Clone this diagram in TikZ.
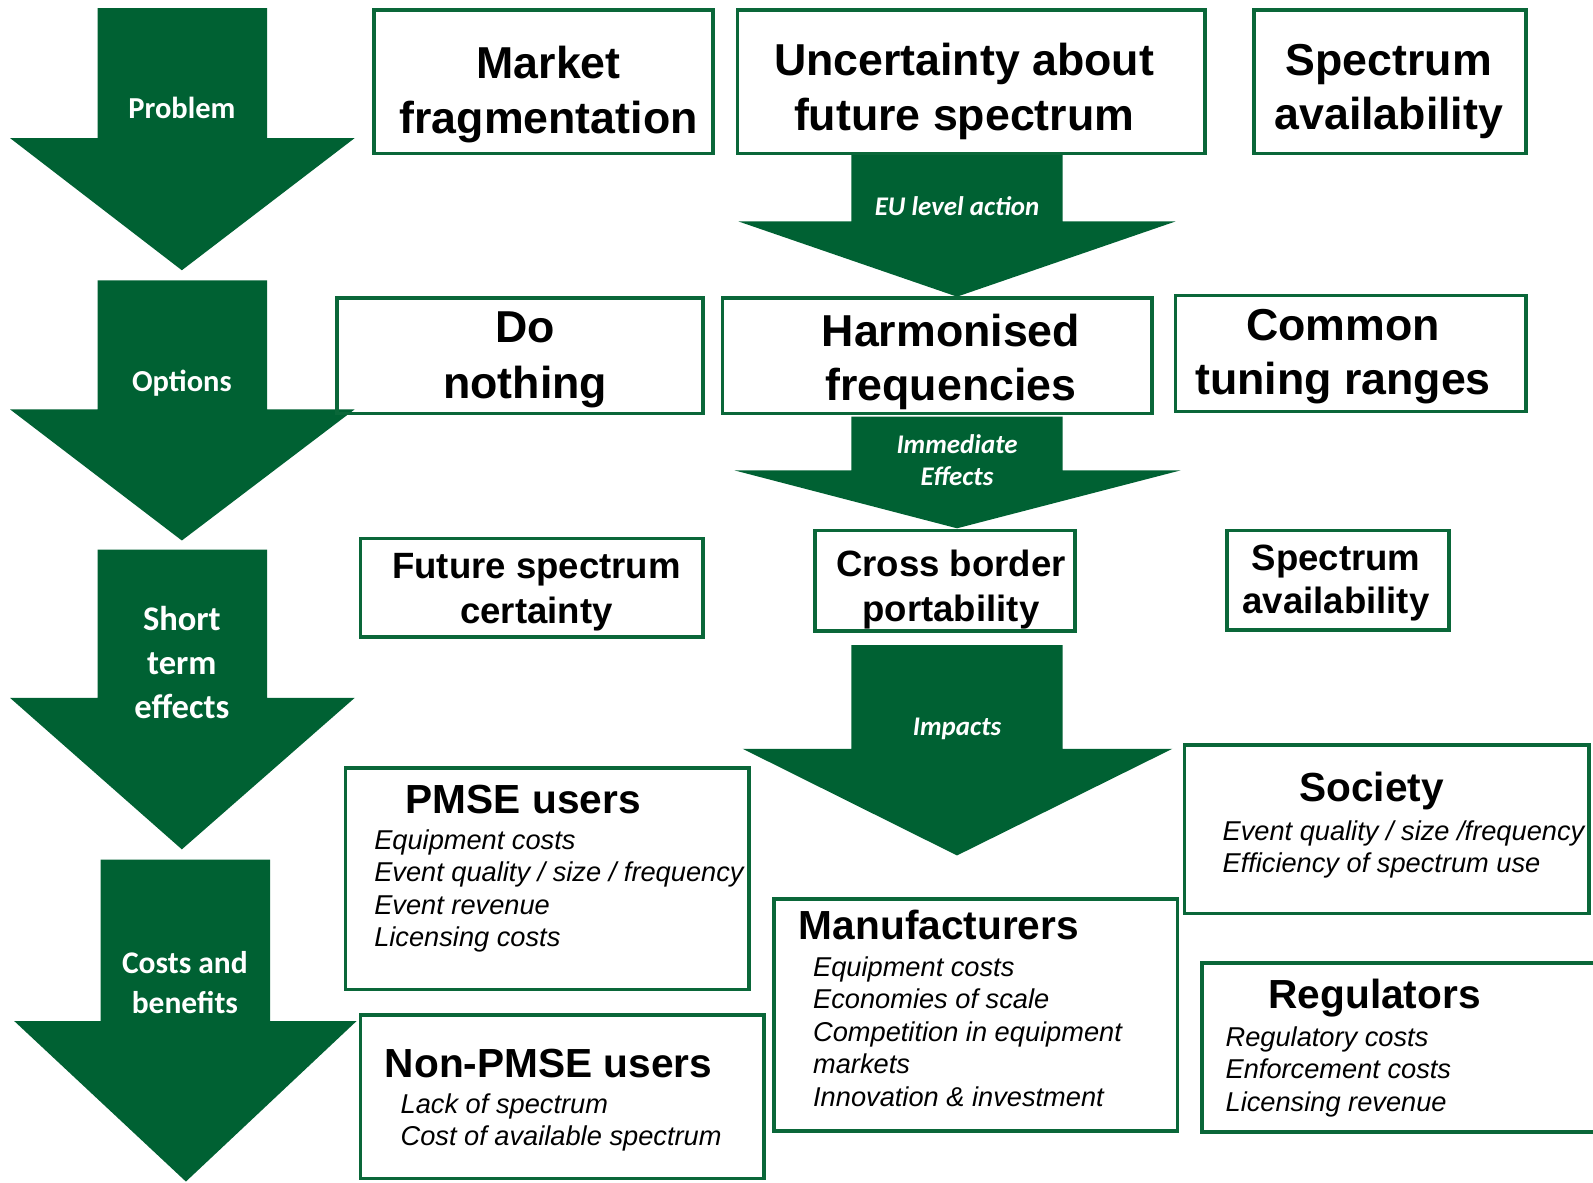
\documentclass[tikz,border=0pt]{standalone}
\usepackage{fontspec}
\setmainfont{Liberation Sans}
\newfontfamily\calibri{Carlito}
\usetikzlibrary{fit}
\definecolor{stagegreen}{RGB}{0,97,51}
\definecolor{boxgreen}{RGB}{10,103,57}

\begin{document}
\begin{tikzpicture}[x=0.5pt,y=-0.5pt,
    stage/.style={fill=stagegreen},
    stagetext/.style={text=white,align=center,inner sep=0pt,font=\calibri\bfseries},
    box/.style={draw=boxgreen,line width=1.8pt,inner sep=0pt},
    head/.style={align=center,inner sep=0pt,font=\bfseries\fontsize{22}{26.75}\selectfont},
    sub/.style={align=center,inner sep=0pt,font=\bfseries\fontsize{18}{22}\selectfont},
    group/.style={inner sep=0pt,font=\bfseries\fontsize{20}{24}\selectfont},
    items/.style={align=left,inner sep=0pt,anchor=north west,font=\itshape\fontsize{13.4}{16}\selectfont}]
    \fill[white] (0,0) rectangle (1568,1164);
    \useasboundingbox (0,0) rectangle (1568,1164);
    \fill[stage] (96,8) -- (263,8) -- (263,136) -- (349,136) -- (179,266) -- (10,136) -- (96,136) -- cycle;
    \fill[stage] (96,276) -- (263,276) -- (263,403) -- (349,403) -- (179,532) -- (10,403) -- (96,403) -- cycle;
    \fill[stage] (96,541) -- (263,541) -- (263,687) -- (349,687) -- (179,836) -- (10,687) -- (96,687) -- cycle;
    \fill[stage] (99,846) -- (266,846) -- (266,1005) -- (351,1005) -- (183,1163) -- (14,1005) -- (99,1005) -- cycle;
    \fill[stage] (838,152) -- (1046,152) -- (1046,218) -- (1157,218) -- (942,292) -- (727,218) -- (838,218) -- cycle;
    \fill[stage] (838,410) -- (1046,410) -- (1046,463) -- (1162,463) -- (942,520) -- (723,463) -- (838,463) -- cycle;
    \fill[stage] (838,635) -- (1046,635) -- (1046,737) -- (1154,737) -- (942,842) -- (731,737) -- (838,737) -- cycle;
    \node[stagetext,font=\calibri\bfseries\fontsize{15}{18}\selectfont] (PR) at (179,106) {Problem};
    \node[stagetext,font=\calibri\bfseries\fontsize{15}{18}\selectfont] (OP) at (179,377) {Options};
    \node[stagetext,font=\calibri\bfseries\fontsize{17}{21.75}\selectfont] (ST) at (179,652) {Short\\term\\effects};
    \node[stagetext,font=\calibri\bfseries\fontsize{15.5}{19.5}\selectfont] (CB) at (182,967) {Costs and\\benefits};
    \node[stagetext,font=\calibri\bfseries\itshape\fontsize{13.25}{16}\selectfont] (EU) at (942,203) {EU level action};
    \node[stagetext,font=\calibri\bfseries\itshape\fontsize{13.25}{16}\selectfont] (IE) at (942,453) {Immediate\\Effects};
    \node[stagetext,font=\calibri\bfseries\itshape\fontsize{13.25}{16}\selectfont] (IM) at (942,717) {Impacts};
    \node[box,fit={(368,10) (702,151)}] (MF) {};
    \node[box,fit={(726,10) (1186,151)}] (UF) {};
    \node[box,fit={(1234,10) (1502,151)}] (SA) {};
    \node[box,fit={(332,293) (692,407)}] (DN) {};
    \node[box,fit={(711,293) (1134,407)}] (HF) {};
    \node[box,fit={(1157,291) (1502,405)}] (CT) {};
    \node[box,fit={(355,530) (692,627)}] (FS) {};
    \node[box,fit={(802,522) (1058,621)}] (CP) {};
    \node[box,fit={(1208,522) (1426,620)}] (SV) {};
    \node[box,fit={(340,756) (737,974)}] (PU) {};
    \node[box,fit={(1166,733) (1564,899)}] (SO) {};
    \node[box,fit={(762,885) (1159,1113)}] (MA) {};
    \node[box,fit={(1183,948) (1580,1114)}] (RE) {};
    \node[box,fit={(355,999) (752,1160)}] (NP) {};
    \node[head] (MFt) at (540,93) {Market\\fragmentation};
    \node[head] (UFt) at (949,90) {Uncertainty about\\future spectrum};
    \node[head] (SAt) at (1367,90) {Spectrum\\availability};
    \node[head,font=\bfseries\fontsize{22}{27.5}\selectfont] (DNt) at (517,354) {Do\\nothing};
    \node[head] (HFt) at (936,356) {Harmonised\\frequencies};
    \node[head,font=\bfseries\fontsize{22}{27}\selectfont] (CTt) at (1322,351) {Common\\tuning ranges};
    \node[sub] (FSt) at (528,583) {Future spectrum\\certainty};
    \node[sub] (CPt) at (936,580) {Cross border\\portability};
    \node[sub,font=\bfseries\fontsize{18}{21.5}\selectfont] (SVt) at (1315,574) {Spectrum\\availability};
    \node[group] (PUt) at (515,787) {PMSE users};
    \node[group] (SOt) at (1350,779) {Society};
    \node[group,anchor=west] (MAt) at (786,910) {Manufacturers};
    \node[group] (REt) at (1353,982) {Regulators};
    \node[group] (NPt) at (540,1047) {Non-PMSE users};
    \node[items] (PUi) at (368,816) {Equipment costs\\Event quality / size / frequency\\Event revenue\\Licensing costs};
    \node[items] (SOi) at (1203,807) {Event quality / size /frequency\\Efficiency of spectrum use};
    \node[items] (MAi) at (800,941) {Equipment costs\\Economies of scale\\Competition in equipment\\markets\\Innovation \& investment};
    \node[items] (REi) at (1206,1010) {Regulatory costs\\Enforcement costs\\Licensing revenue};
    \node[items] (NPi) at (394,1076) {Lack of spectrum\\Cost of available spectrum};
\end{tikzpicture}
\end{document}
